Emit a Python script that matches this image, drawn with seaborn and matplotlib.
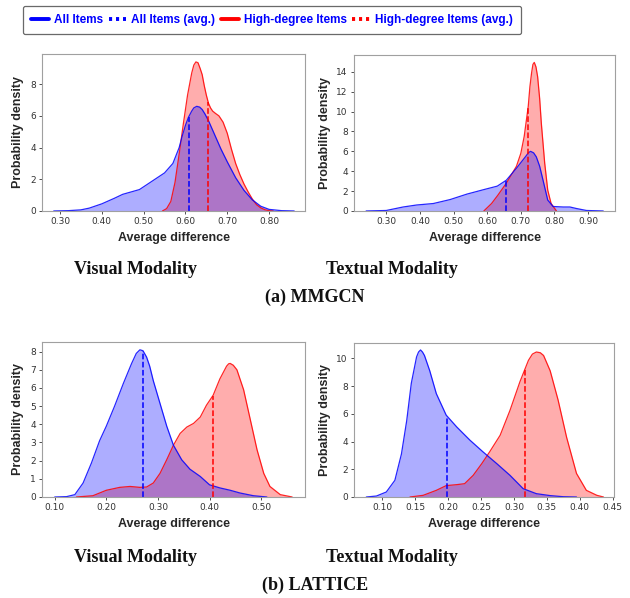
import numpy as np
import matplotlib
matplotlib.use("Agg")
import matplotlib.pyplot as plt
import seaborn as sns
from matplotlib.lines import Line2D

# ---- density curves (x, density) ----
# (a) MMGCN, visual
mm_vis_all_x = [0.285, 0.32, 0.35, 0.37, 0.40, 0.43, 0.45, 0.47, 0.49, 0.51, 0.53, 0.55, 0.57, 0.585,
                0.592, 0.60, 0.607, 0.615, 0.62, 0.627, 0.634, 0.64, 0.647, 0.655, 0.67, 0.685, 0.70,
                0.72, 0.74, 0.76, 0.78, 0.80, 0.83, 0.86]
mm_vis_all_y = [0.0, 0.02, 0.07, 0.18, 0.45, 0.8, 1.05, 1.2, 1.35, 1.7, 2.05, 2.4, 3.0, 4.0,
                4.7, 5.4, 5.9, 6.3, 6.5, 6.6, 6.55, 6.4, 6.1, 5.7, 4.8, 3.9, 3.1,
                2.1, 1.3, 0.7, 0.3, 0.1, 0.02, 0.0]
mm_vis_high_x = [0.545, 0.555, 0.565, 0.575, 0.585, 0.595, 0.605, 0.615, 0.62, 0.625, 0.63, 0.635,
                 0.64, 0.645, 0.65, 0.655, 0.66, 0.665, 0.672, 0.68, 0.69, 0.70, 0.71, 0.72, 0.73,
                 0.74, 0.75, 0.76, 0.77, 0.78, 0.79, 0.80, 0.81]
mm_vis_high_y = [0.0, 0.15, 0.6, 1.8, 3.6, 5.5, 7.3, 8.7, 9.2, 9.4, 9.35, 9.0,
                 8.6, 7.9, 7.3, 6.8, 6.5, 6.3, 6.15, 6.0, 5.6, 4.9, 3.9, 3.0, 2.3,
                 1.7, 1.2, 0.75, 0.4, 0.2, 0.08, 0.02, 0.0]
mm_vis_mean_all, mm_vis_mean_high = 0.608, 0.654

# (a) MMGCN, textual
mm_txt_all_x = [0.24, 0.30, 0.35, 0.39, 0.44, 0.49, 0.54, 0.59, 0.63, 0.657, 0.687, 0.717, 0.722,
                0.729, 0.738, 0.746, 0.756, 0.766, 0.78, 0.796, 0.826, 0.846, 0.865, 0.895, 0.945]
mm_txt_all_y = [0.0, 0.05, 0.4, 0.6, 0.75, 1.15, 1.7, 2.15, 2.5, 3.1, 4.3, 5.6, 5.85,
                6.0, 5.85, 5.45, 4.5, 3.1, 1.1, 0.45, 0.4, 0.4, 0.25, 0.05, 0.0]
mm_txt_high_x = [0.59, 0.613, 0.632, 0.657, 0.687, 0.70, 0.71, 0.722, 0.727, 0.732, 0.736, 0.74,
                 0.745, 0.75, 0.756, 0.761, 0.771, 0.78, 0.79, 0.806]
mm_txt_high_y = [0.0, 0.75, 1.6, 2.8, 4.5, 5.8, 7.5, 10.5, 12.5, 13.9, 14.75, 14.95,
                 14.5, 13.5, 11.3, 8.8, 4.8, 2.1, 0.75, 0.0]
mm_txt_mean_all, mm_txt_mean_high = 0.655, 0.722

# (b) LATTICE, visual
lat_vis_all_x = [0.10, 0.123, 0.139, 0.155, 0.171, 0.187, 0.20, 0.216, 0.233, 0.249, 0.258, 0.265,
                 0.271, 0.278, 0.284, 0.291, 0.304, 0.317, 0.33, 0.346, 0.362, 0.382, 0.40, 0.42,
                 0.44, 0.459, 0.485, 0.511]
lat_vis_all_y = [0.0, 0.02, 0.13, 0.77, 1.86, 3.1, 3.9, 5.0, 6.25, 7.35, 7.9, 8.1,
                 8.05, 7.7, 7.2, 6.4, 5.15, 3.9, 2.85, 2.05, 1.53, 1.13, 0.67, 0.5,
                 0.37, 0.22, 0.07, 0.0]
lat_vis_high_x = [0.142, 0.174, 0.20, 0.226, 0.246, 0.265, 0.278, 0.291, 0.304, 0.317, 0.33, 0.343,
                  0.356, 0.369, 0.382, 0.394, 0.407, 0.42, 0.433, 0.437, 0.44, 0.446, 0.453, 0.466,
                  0.479, 0.492, 0.505, 0.517, 0.537, 0.56]
lat_vis_high_y = [0.0, 0.07, 0.37, 0.53, 0.58, 0.53, 0.55, 0.77, 1.3, 2.05, 2.85, 3.5,
                  3.85, 4.05, 4.4, 5.05, 5.6, 6.5, 7.2, 7.33, 7.35, 7.25, 7.0, 5.9,
                  4.25, 2.6, 1.3, 0.58, 0.13, 0.0]
lat_vis_mean_all, lat_vis_mean_high = 0.2715, 0.406

# (b) LATTICE, textual
lat_txt_all_x = [0.0756, 0.091, 0.106, 0.119, 0.129, 0.137, 0.144, 0.152, 0.155, 0.158, 0.161, 0.164,
                 0.172, 0.182, 0.197, 0.213, 0.233, 0.253, 0.274, 0.294, 0.314, 0.334, 0.355, 0.375,
                 0.395]
lat_txt_all_y = [0.0, 0.07, 0.36, 1.2, 3.1, 5.5, 8.2, 10.1, 10.45, 10.6, 10.45, 10.2,
                 9.1, 7.45, 5.9, 5.05, 4.1, 3.25, 2.4, 1.56, 0.6, 0.24, 0.1, 0.02,
                 0.0]
lat_txt_high_x = [0.142, 0.162, 0.182, 0.197, 0.213, 0.225, 0.238, 0.251, 0.263, 0.279, 0.294, 0.309,
                  0.322, 0.328, 0.334, 0.34, 0.345, 0.355, 0.367, 0.38, 0.395, 0.41, 0.426, 0.436]
lat_txt_high_y = [0.0, 0.12, 0.48, 0.82, 0.89, 0.96, 1.56, 2.4, 3.25, 4.45, 6.25, 8.3,
                  9.85, 10.3, 10.45, 10.4, 10.2, 9.1, 7.0, 4.3, 1.7, 0.48, 0.12, 0.0]
lat_txt_mean_all, lat_txt_mean_high = 0.198, 0.317

BLUE = "#0000ff"
RED = "#ff0000"

sns.set_style("white")
plt.rcParams["font.family"] = ["DejaVu Sans"]

fig = plt.figure(figsize=(6.3, 5.98), dpi=100)


def panel(rect, all_x, all_y, high_x, high_y, mean_all, mean_high, xlim, ylim, xticks, yticks):
    ax = fig.add_axes(rect)
    ax.fill_between(high_x, high_y, color=RED, alpha=0.32, linewidth=0)
    sns.lineplot(x=high_x, y=high_y, ax=ax, color=RED, linewidth=0.9, alpha=0.85)
    ax.fill_between(all_x, all_y, color=BLUE, alpha=0.32, linewidth=0)
    sns.lineplot(x=all_x, y=all_y, ax=ax, color=BLUE, linewidth=0.9, alpha=0.85)
    ax.vlines(mean_all, 0, np.interp(mean_all, all_x, all_y), color=BLUE,
              linestyles="--", linewidth=1.1)
    ax.vlines(mean_high, 0, np.interp(mean_high, high_x, high_y), color=RED,
              linestyles="--", linewidth=1.1)
    ax.set_xlim(*xlim)
    ax.set_ylim(*ylim)
    ax.set_xticks(xticks)
    ax.set_xticklabels([f"{t:.2f}" for t in xticks])
    ax.set_yticks(yticks)
    ax.tick_params(axis="both", labelsize=6.5, colors="#333333", length=2.5, width=0.6,
                   direction="out", bottom=True, left=True, pad=2)
    for s in ax.spines.values():
        s.set_color("#a0a0a0")
        s.set_linewidth(0.8)
    ax.set_xlabel("Average difference", fontsize=9, fontweight="bold",
                  family="Liberation Sans", labelpad=4)
    ax.set_ylabel("Probability density", fontsize=9, fontweight="bold",
                  family="Liberation Sans", labelpad=4)
    return ax


panel([0.0667, 0.6472, 0.4175, 0.2625], mm_vis_all_x, mm_vis_all_y, mm_vis_high_x, mm_vis_high_y,
      mm_vis_mean_all, mm_vis_mean_high, (0.257, 0.886), (0, 9.9),
      [0.30, 0.40, 0.50, 0.60, 0.70, 0.80], [0, 2, 4, 6, 8])
panel([0.5619, 0.6472, 0.4143, 0.2609], mm_txt_all_x, mm_txt_all_y, mm_txt_high_x, mm_txt_high_y,
      mm_txt_mean_all, mm_txt_mean_high, (0.204, 0.98), (0, 15.7),
      [0.30, 0.40, 0.50, 0.60, 0.70, 0.80, 0.90], [0, 2, 4, 6, 8, 10, 12, 14])
panel([0.0667, 0.1689, 0.4175, 0.2592], lat_vis_all_x, lat_vis_all_y, lat_vis_high_x, lat_vis_high_y,
      lat_vis_mean_all, lat_vis_mean_high, (0.0754, 0.585), (0, 8.53),
      [0.10, 0.20, 0.30, 0.40, 0.50], [0, 1, 2, 3, 4, 5, 6, 7, 8])
panel([0.5619, 0.1689, 0.4127, 0.2575], lat_txt_all_x, lat_txt_all_y, lat_txt_high_x, lat_txt_high_y,
      lat_txt_mean_all, lat_txt_mean_high, (0.0569, 0.452), (0, 11.1),
      [0.10, 0.15, 0.20, 0.25, 0.30, 0.35, 0.40, 0.45], [0, 2, 4, 6, 8, 10])

# captions
serif = dict(family="Liberation Serif", fontweight="bold", ha="center", va="center", color="#111111")
W, H = 630, 598
for (x, y, s) in [(135, 270, "Visual Modality"), (392, 270, "Textual Modality"),
                  (315, 297, "(a) MMGCN"),
                  (135, 557, "Visual Modality"), (392, 557, "Textual Modality"),
                  (315, 585, "(b) LATTICE")]:
    fig.text(x / W, 1 - y / H, s, fontsize=13, **serif)

# legend
handles = [
    Line2D([], [], color=BLUE, linewidth=2.8),
    Line2D([], [], color=BLUE, linewidth=2.8, linestyle=(0, (0.8, 1))),
    Line2D([], [], color=RED, linewidth=2.8),
    Line2D([], [], color=RED, linewidth=2.8, linestyle=(0, (0.8, 1))),
]
labels = ["All Items", "All Items (avg.)", "High-degree Items", "High-degree Items (avg.)"]
leg = fig.legend(handles, labels, loc="center", bbox_to_anchor=(272 / W, 1 - 20 / H), ncol=4,
                 frameon=True, fancybox=True, handlelength=1.5, handletextpad=0.4,
                 columnspacing=0.5, borderpad=0.7,
                 prop={"family": "Liberation Sans", "weight": "bold", "size": 8.5})
leg.get_frame().set_edgecolor("#444444")
leg.get_frame().set_linewidth(0.9)
for t in leg.get_texts():
    t.set_color(BLUE)

fig.savefig("out.png", dpi=100)
